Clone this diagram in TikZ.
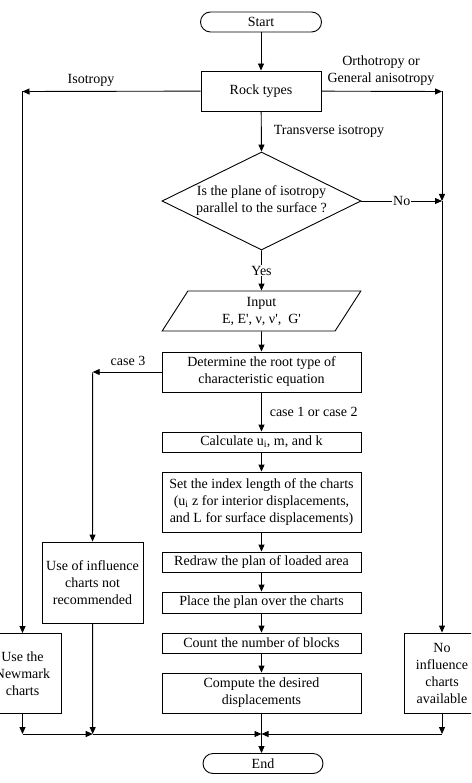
\documentclass[tikz,border=0pt]{standalone}
\usepackage{fontspec}
\setmainfont{Liberation Serif}
\usetikzlibrary{arrows.meta,shapes.geometric}
\begin{document}
\begin{tikzpicture}[x=1pt,y=-1pt,line width=0.9pt,
		font=\fontsize{14}{17}\selectfont,
		box/.style={draw,rectangle,align=center,inner sep=0pt,minimum width=199pt},
		term/.style={draw,rectangle,rounded corners=10pt,inner sep=0pt,minimum height=20pt},
		arr/.style={-{Triangle[length=7pt,width=6pt]}},
		lbl/.style={inner sep=1pt,fill=white}]
	\useasboundingbox (0,0) rectangle (471,783);
	\clip (0,0) rectangle (471,783);
	% main column
	\node[term,minimum width=121pt] (start) at (261,22) {Start};
	\node[box,minimum width=120pt,minimum height=40pt] (rock) at (261,91) {Rock types};
	\node[draw,diamond,inner sep=0pt,minimum width=199pt,minimum height=98pt,
		label={[align=center]center:Is the plane of isotropy\\parallel to the surface ?}] (dia) at (261.5,201) {};
	\node[draw,trapezium,trapezium left angle=64,trapezium right angle=116,trapezium stretches=true,
		align=center,inner sep=0pt,minimum width=199pt,minimum height=40pt] (input) at (261.5,311)
		{Input\\E, E\textquotesingle, ν, ν\textquotesingle, \ G\textquotesingle};
	\node[box,minimum height=40pt] (det) at (261.5,372) {Determine the root type of\\characteristic equation};
	\node[box,minimum height=20pt] (calc) at (261.5,442) {Calculate u\textsubscript{i}, m, and k};
	\node[box,minimum height=60pt] (set) at (261.5,502) {Set the index length of the charts\\(u\textsubscript{i} z for interior displacements,\\and L for surface displacements)};
	\node[box,minimum height=20pt] (redraw) at (261.5,562) {Redraw the plan of loaded area};
	\node[box,minimum height=21pt] (place) at (261.5,602.5) {Place the plan over the charts};
	\node[box,minimum height=20pt] (count) at (261.5,643) {Count the number of blocks};
	\node[box,minimum height=40pt] (compute) at (261.5,693) {Compute the desired\\displacements};
	\node[term,minimum width=120pt] (end) at (263,763.5) {End};
	% side boxes
	\node[box,minimum width=101pt,minimum height=81pt] (notrec) at (92.5,582.5) {Use of influence\\charts not\\recommended};
	\node[box,minimum width=77pt,minimum height=80pt] (newmark) at (22.5,673.5) {Use the\\Newmark\\charts};
	\node[box,minimum width=76pt,minimum height=80pt] (noinf) at (442,673) {No\\influence\\charts\\available};
	% corners
	\coordinate (isoC) at (22.5,91.5);
	\coordinate (anisoC) at (442,91.5);
	\coordinate (noC) at (442,201);
	\coordinate (c3C) at (92.7,372);
	\coordinate (bL) at (22.5,734);
	\coordinate (bM) at (92.7,734);
	\coordinate (bC) at (261.5,734);
	\coordinate (bR) at (442,734);
	% labels
	\node (isolbl) at (91,80) {Isotropy};
	\node[align=center] (anisolbl) at (381,71) {Orthotropy or\\General anisotropy};
	\node[anchor=west] (translbl) at (270,131) {Transverse isotropy};
	\node (c3lbl) at (128,361) {case 3};
	\node[anchor=west] (c12lbl) at (266,412) {case 1 or case 2};
	% connectors
	\draw[arr] (start) -- (rock);
	\draw[arr] (rock) -- (isoC);
	\draw[arr] (isoC) -- (newmark);
	\draw[arr] (rock) -- (anisoC);
	\draw[arr] (anisoC) -- (noC);
	\draw[arr] (dia.east) -- node[lbl] {No} (noC);
	\draw[arr] (noC) -- (noinf);
	\draw[arr] (rock) -- (dia.north);
	\draw[arr] (dia.south) -- node[lbl] {Yes} (input.north);
	\draw[arr] (input.south) -- (det);
	\draw[arr] (det) -- (c3C);
	\draw[arr] (c3C) -- (notrec);
	\draw[arr] (det) -- (calc);
	\draw[arr] (calc) -- (set);
	\draw[arr] (set) -- (redraw);
	\draw[arr] (redraw) -- (place);
	\draw[arr] (place) -- (count);
	\draw[arr] (count) -- (compute);
	\draw[arr] (compute.south) -- (compute.south |- end.north);
	\draw[arr] (newmark) -- (bL);
	\draw[arr] (bL) -- (bM);
	\draw[arr] (notrec) -- (bM);
	\draw[arr] (bM) -- (bC);
	\draw[arr] (noinf) -- (bR);
	\draw[arr] (bR) -- (bC);
\end{tikzpicture}
\end{document}
